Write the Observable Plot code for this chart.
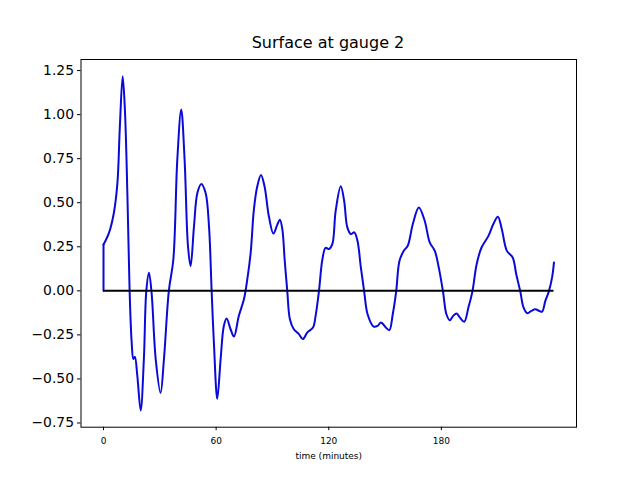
<!DOCTYPE html>
<html>
<head>
<meta charset="utf-8">
<script src="https://cdn.jsdelivr.net/npm/d3@7"></script>
<script src="https://cdn.jsdelivr.net/npm/@observablehq/plot@0.6"></script>
<style>
  html, body { margin: 0; padding: 0; background: #fff; }
  #title {
    box-sizing: border-box; width: 640px; height: 40px; padding-top: 35px; padding-left: 16px;
    font-family: "DejaVu Sans", sans-serif; font-size: 16px; line-height: 16px; text-align: center; color: #000;
  }
</style>
</head>
<body>
<div id="title">Surface at gauge 2</div>
<div id="chart"></div>
<script>
const chartTitle = "Surface at gauge 2";
const xLabel = "time (minutes)";
const xTicks = [0, 60, 120, 180];
const yTicks = [-0.75, -0.5, -0.25, 0, 0.25, 0.5, 0.75, 1.0, 1.25];

// time (minutes)
const time = [0, 0, 2.9, 5.5, 7.4, 8.7, 10.2, 11.4, 12.7, 13.9, 15.0, 15.9, 16.7, 18.0, 19.8, 21.5, 22.8, 24.2, 25.6, 27.8,
  30.4, 32.2, 34.8, 37.2, 39.3, 41.4, 43.2, 45.0, 46.4, 48.2, 50.0, 52.1, 54.4, 56.2, 57.6, 58.8, 60.6, 62.4, 64.1, 65.6,
  67.7, 69.5, 72.1, 74.8, 76.6, 78.4, 80.1, 81.9, 83.9, 85.8, 88.1, 90.5, 92.6, 94.0, 95.3, 96.5, 97.9, 99.3, 101.4, 104.1,
  106.2, 108.6, 111.6, 113.0, 114.8, 116.6, 118.3, 120.1, 121.9, 123.7, 126.4, 128.2, 129.9, 131.8, 133.6, 135.3, 137.1, 138.9, 140.7, 143.9,
  146.0, 147.8, 150.5, 152.3, 154.1, 155.9, 157.7, 160.0, 162.1, 164.8, 168.0, 171.1, 173.8, 176.5, 178.6, 180.9, 182.7, 184.5, 186.3, 188.1,
  189.9, 192.2, 194.4, 196.5, 198.8, 201.4, 205.1, 207.7, 210.1, 212.2, 214.9, 218.0, 219.9, 222.1, 223.8, 225.9, 227.9, 230.1, 232.2, 233.7,
  235.4, 237.2, 239.0, 240.0];
// surface elevation
const surface = [0, 0.263, 0.329, 0.442, 0.611, 0.931, 1.218, 1.025, 0.555, 0.0, -0.293, -0.387, -0.374, -0.481, -0.679, -0.387, 0.0, 0.103, -0.01, -0.387,
  -0.579, -0.387, 0.0, 0.178, 0.743, 1.029, 0.743, 0.253, 0.14, 0.366, 0.555, 0.607, 0.555, 0.366, 0.0, -0.293, -0.613, -0.387, -0.199, -0.157,
  -0.218, -0.259, -0.142, -0.048, 0.065, 0.216, 0.46, 0.592, 0.658, 0.592, 0.423, 0.325, 0.376, 0.404, 0.347, 0.178, 0.0, -0.161, -0.218, -0.246,
  -0.274, -0.236, -0.208, -0.142, 0.0, 0.178, 0.244, 0.237, 0.265, 0.455, 0.593, 0.511, 0.36, 0.322, 0.332, 0.284, 0.133, -0.006, -0.133, -0.203,
  -0.199, -0.18, -0.209, -0.223, -0.133, -0.006, 0.171, 0.227, 0.256, 0.379, 0.473, 0.398, 0.275, 0.227, 0.133, -0.006, -0.133, -0.167, -0.142, -0.129,
  -0.152, -0.175, -0.095, -0.006, 0.151, 0.246, 0.312, 0.379, 0.421, 0.35, 0.227, 0.189, 0.094, -0.006, -0.095, -0.127, -0.114, -0.105, -0.114, -0.118,
  -0.057, -0.006, 0.076, 0.161];

const data = time.map((t, i) => ({t, v: surface[i]}));
const tMax = d3.max(time);
const vExt = d3.extent(surface);
const xPad = 0.05 * (tMax - 0);
const yPad = 0.05 * (vExt[1] - vExt[0]);

const chart = Plot.plot({
  width: 640,
  height: 440,
  marginLeft: 80.5,
  marginRight: 64,
  marginTop: 19,
  marginBottom: 53.3,
  style: {fontFamily: "DejaVu Sans, sans-serif", color: "#000", background: "#fff"},
  x: {domain: [-xPad, tMax + xPad]},
  y: {domain: [vExt[0] - yPad, vExt[1] + yPad]},
  marks: [
    Plot.axisY({ticks: yTicks, tickFormat: d3.format(".2f"), fontSize: 13.9, tickSize: 3.5, tickPadding: 3.5, label: null}),
    Plot.axisX({ticks: xTicks, tickFormat: d3.format("d"), fontSize: 9, tickSize: 3.5, tickPadding: 7,
      label: xLabel, labelAnchor: "center", labelArrow: "none", labelOffset: 32}),
    Plot.line(data.slice(0, 2), {x: "t", y: "v", stroke: "#0a0ad8", strokeWidth: 2}),
    Plot.line(data.slice(1), {x: "t", y: "v", stroke: "#0a0ad8", strokeWidth: 2, curve: "catmull-rom"}),
    Plot.ruleY([0], {x1: 0, x2: tMax, stroke: "#000", strokeWidth: 2}),
    Plot.frame({stroke: "#000", strokeWidth: 1})
  ]
});
document.getElementById("chart").appendChild(chart);
</script>
</body>
</html>
